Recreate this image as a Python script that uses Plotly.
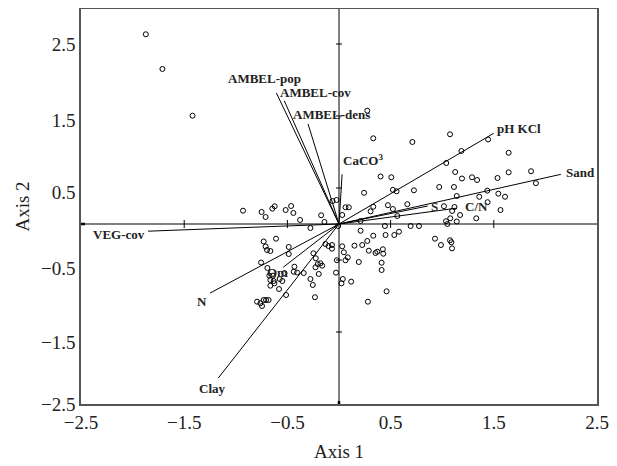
import plotly.graph_objects as go

# ---- sample scores (Axis 1, Axis 2) ----
site_x = [-1.872, -1.711, -1.419, -0.930, -0.750, -0.711, -0.646, -0.623, -0.517, -0.464,
          -0.442, -0.377, -0.173, -0.141, -0.277, -0.063, -0.024, -0.730, -0.711, -0.697,
          -0.665, -0.610, -0.487, -0.487, -0.248, -0.225, -0.131, -0.102, -0.068, -0.068,
          -0.021, -0.029, -0.755, -0.432, -0.439, -0.406, -0.342, -0.228, -0.206, -0.180,
          -0.163, -0.196, -0.277, -0.254, -0.233, -0.513, -0.675, -0.639, -0.665, -0.633,
          -0.665, -0.575, -0.549, -0.581, -0.626, -0.694, -0.529, -0.794, -0.762, -0.746,
          -0.730, -0.707, -0.682, 0.031, 0.047, 0.037, 0.024, 0.118, 0.031, 0.063,
          0.095, -0.008, 0.209, 0.209, 0.445, 0.694, 0.775, 0.332, 0.451, 0.536,
          0.581, 0.930, 0.988, 1.076, 1.089, 1.095, 0.150, 0.225, 0.274, 0.289,
          0.354, 0.371, 0.425, 0.429, 0.085, 0.063, 0.192, 0.413, 0.413, 0.461,
          0.280, 0.274, 0.332, 0.711, 1.076, 1.445, 1.186, 1.644, 1.039, 1.126,
          0.403, 0.507, 1.192, 1.289, 1.338, 1.536, 1.644, 1.861, 1.908, 0.522,
          0.558, 0.726, 0.243, 0.971, 1.114, 1.141, 1.437, 1.359, 1.544, 1.609,
          1.565, 1.440, 0.332, 0.306, 0.474, 0.522, 0.565, 0.662, 1.017, 1.119,
          1.096, 1.173, 1.078, 1.037, 1.050, 1.141, 1.330]
site_y = [2.635, 2.153, 1.504, 0.185, 0.167, 0.097, 0.213, 0.246, 0.194, 0.250,
          0.153, 0.056, 0.121, 0.028, -0.056, 0.319, 0.333, -0.243, -0.313, -0.361,
          -0.375, -0.204, -0.319, -0.417, -0.407, -0.476, -0.278, -0.306, -0.292, -0.343,
          -0.503, -0.676, -0.535, -0.593, -0.663, -0.674, -0.681, -0.601, -0.556, -0.546,
          -0.579, -0.694, -0.764, -0.847, -1.017, -0.986, -0.718, -0.718, -0.778, -0.792,
          -0.857, -0.764, -0.792, -0.903, -0.824, -0.611, -0.681, -1.079, -1.101, -1.139,
          -1.056, -1.056, -1.056, -0.310, -0.393, -0.764, -0.824, -0.801, 0.125, 0.232,
          0.232, -0.028, 0.042, -0.093, -0.028, -0.028, -0.028, -0.163, -0.153, -0.153,
          -0.107, -0.204, -0.292, -0.226, -0.254, -0.338, -0.301, -0.292, -0.236, -0.371,
          -0.403, -0.385, -0.351, -0.413, -0.463, -0.504, -0.528, -0.538, -0.639, -0.935,
          -1.079, 1.574, 1.190, 1.139, 1.246, 1.174, 1.014, 0.989, 0.847, 0.722,
          0.660, 0.649, 0.632, 0.649, 0.611, 0.639, 0.718, 0.733, 0.567, 0.475,
          0.454, 0.468, 0.433, 0.514, 0.514, 0.389, 0.463, 0.378, 0.421, 0.378,
          0.194, 0.303, 0.240, 0.176, 0.261, 0.208, 0.111, 0.275, 0.247, 0.236,
          0.181, 0.125, 0.079, 0.039, 0.000, 0.035, 0.079]

# ---- environmental vectors ----
var_names = ["AMBEL-pop", "AMBEL-cov", "AMBEL-dens", "CaCO<sup>3</sup>", "pH KCl", "Sand",
             "S", "C/N", "VEG-cov", "N", "Clay", "Om"]
var_x = [-0.607, -0.53, -0.30, 0.03, 1.50, 2.15, 0.86, 1.14, -1.85, -1.25, -1.17, -0.54]
var_y = [1.82, 1.71, 1.39, 0.69, 1.26, 0.69, 0.25, 0.22, -0.10, -0.96, -2.14, -0.60]

# ---- axis ticks ----
x_ticks = [-2.5, -1.5, -0.5, 0.5, 1.5, 2.5]
x_tick_text = ["\u22122.5", "\u22121.5", "\u22120.5", "0.5", "1.5", "2.5"]
y_tick_text = ["2.5", "1.5", "0.5", "\u22120.5", "\u22121.5", "\u22122.5"]
y_tick_pos = [2.49, 1.44, 0.44, -0.61, -1.65, -2.5]   # where labels sit in the figure
axis_marks = [-1.5, -0.5, 0.5, 1.5]
y_axis_marks = [-1.5, -0.5, 0.5, 1.5, 2.5]

# label placement (pixel offsets from the vector tip), style only
label_style = {
    "AMBEL-pop": ("center", -12, 14),
    "AMBEL-cov": ("left", -6, 8),
    "AMBEL-dens": ("left", -17, 9),
    "CaCO<sup>3</sup>": ("left", -1, 14),
    "pH KCl": ("left", 1, 5),
    "Sand": ("left", 3, 2),
    "S": ("left", 1, 0),
    "C/N": ("left", 6, 2),
    "VEG-cov": ("right", -1, -3),
    "N": ("center", -8, -8),
    "Clay": ("center", -6, -10),
    "Om": ("center", -6, -5),
}

SERIF = "Liberation Serif, Times New Roman, serif"

fig = go.Figure()

# vectors
lx, ly = [], []
for vx, vy in zip(var_x, var_y):
    lx += [0, vx, None]
    ly += [0, vy, None]
fig.add_trace(go.Scatter(x=lx, y=ly, mode="lines",
                         line=dict(color="black", width=1), hoverinfo="skip",
                         showlegend=False))

# sites
fig.add_trace(go.Scatter(x=site_x, y=site_y, mode="markers",
                         marker=dict(symbol="circle-open", size=5, color="black",
                                     line=dict(width=1, color="black")),
                         showlegend=False))

# labels
for name, vx, vy in zip(var_names, var_x, var_y):
    anchor, dx, dy = label_style[name]
    fig.add_annotation(x=vx, y=vy, text="<b>" + name + "</b>", showarrow=False,
                       xanchor=anchor, yanchor="middle", xshift=dx, yshift=dy,
                       font=dict(family=SERIF, size=13, color="#222"))

# central cross lines
shapes = [
    dict(type="line", xref="x", yref="y", x0=-2.5, x1=2.5, y0=0, y1=0,
         line=dict(color="black", width=1)),
    dict(type="line", xref="x", yref="y", x0=0, x1=0, y0=-2.5, y1=2.986,
         line=dict(color="black", width=1)),
]
for t in axis_marks:
    shapes.append(dict(type="line", xref="x", yref="y", xsizemode="scaled",
                       ysizemode="pixel", yanchor=0, x0=t, x1=t, y0=-4, y1=4,
                       line=dict(color="black", width=1)))
for t in y_axis_marks:
    shapes.append(dict(type="line", xref="x", yref="y", xsizemode="pixel",
                       xanchor=0, x0=-3, x1=3, y0=t, y1=t,
                       line=dict(color="black", width=1)))
# thick marks where the cross meets the frame
shapes.append(dict(type="line", xref="x", yref="y", xsizemode="pixel", xanchor=-2.5,
                   x0=-1, x1=4, y0=0, y1=0, line=dict(color="black", width=2.5)))
shapes.append(dict(type="line", xref="x", yref="y", ysizemode="pixel", yanchor=-2.5,
                   y0=-1, y1=3, x0=0, x1=0, line=dict(color="black", width=2.5)))
fig.update_layout(shapes=shapes)

fig.update_xaxes(range=[-2.5, 2.5], tickvals=x_ticks, ticktext=x_tick_text,
                 showgrid=False, zeroline=False, ticks="", showline=True, mirror=True,
                 linecolor="#555", linewidth=1.5, automargin=False,
                 tickfont=dict(family=SERIF, size=19, color="#222"),
                 title=dict(text="Axis 1", font=dict(family=SERIF, size=19, color="#222"),
                            standoff=13))
fig.update_yaxes(range=[-2.5, 2.986], tickvals=y_tick_pos, ticktext=y_tick_text,
                 showgrid=False, zeroline=False, ticks="", showline=True, mirror=True,
                 linecolor="#555", linewidth=1.5, automargin=False,
                 tickfont=dict(family=SERIF, size=19, color="#222"),
                 title=dict(text="Axis 2", font=dict(family=SERIF, size=19, color="#222"),
                            standoff=6))

# page body keeps an 8px default margin, so the figure is 8px smaller
fig.update_layout(width=609, height=458, margin=dict(l=73, r=20, t=1, b=62),
                  plot_bgcolor="white", paper_bgcolor="white", showlegend=False)

fig.write_html("out.html")
